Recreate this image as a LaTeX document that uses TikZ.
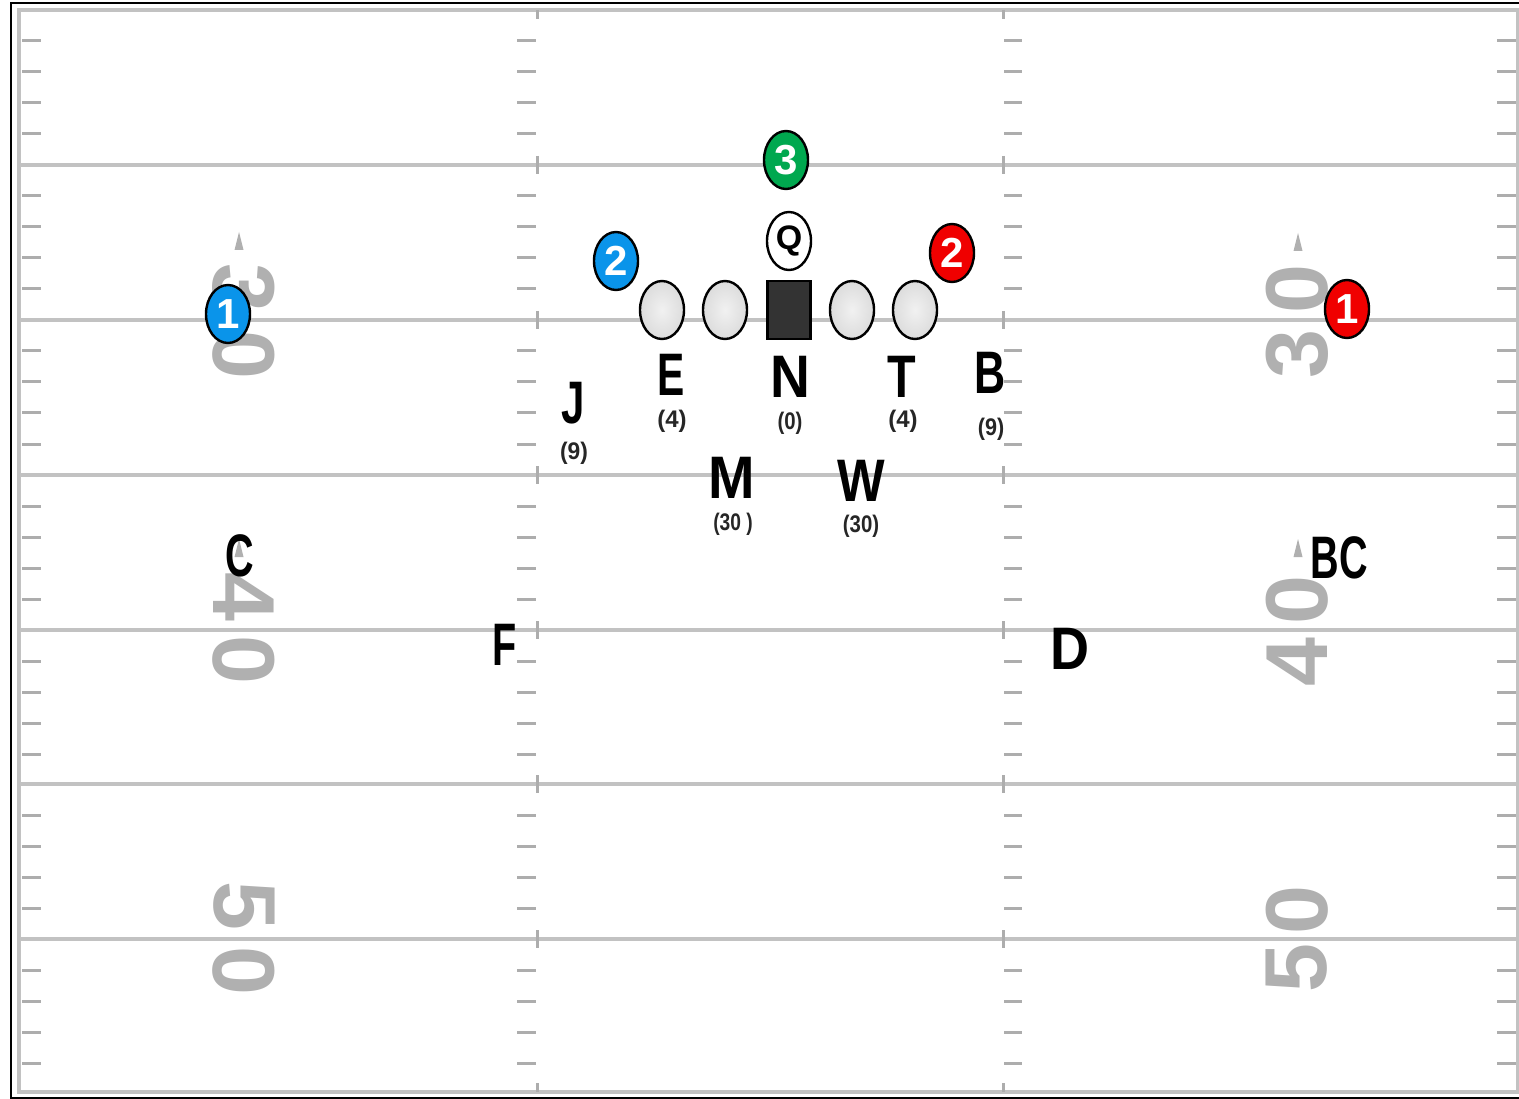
\documentclass[tikz,border=0pt]{standalone}
\usepackage{fontspec}
\setmainfont{Liberation Sans}
\usepackage{graphicx}
\usetikzlibrary{shapes.geometric}
\definecolor{yardc}{HTML}{C2C2C2}
\definecolor{tickc}{HTML}{ADADAD}
\definecolor{numc}{HTML}{B0B0B0}
\definecolor{bluep}{HTML}{0A94EA}
\definecolor{redp}{HTML}{F00000}
\definecolor{greenp}{HTML}{00A84F}
\definecolor{linefill}{HTML}{DCDCDC}
\definecolor{centerfill}{HTML}{333333}
\newcommand{\sq}[2]{\scalebox{#1}[1]{#2}}
\tikzset{
  yardline/.style={yardc, line width=3.5pt},
  hashtick/.style={tickc, line width=3pt},
  fnum/.style={text=numc, font=\fontsize{88}{88}\selectfont\bfseries, inner sep=0pt},
  dirarrow/.style={fill=numc, draw=none},
  player/.style={ellipse, draw=black, line width=2.4pt, minimum width=44pt, minimum height=58pt, inner sep=0pt, text=white, font=\fontsize{42}{42}\selectfont\bfseries},
  olinem/.style={player, inner color=white!60!linefill, outer color=linefill},
  centerm/.style={rectangle, draw=black, line width=2.5pt, fill=centerfill, minimum width=43pt, minimum height=58pt, inner sep=0pt},
  lbl/.style={font=\fontsize{60}{60}\selectfont\bfseries, inner sep=0pt, text=black},
  sublbl/.style={font=\fontsize{24}{24}\selectfont\bfseries, inner sep=0pt, text=black!85}
}
\begin{document}
\begin{tikzpicture}[x=1pt,y=-1pt]
\useasboundingbox (0,0) rectangle (1519,1099);
\fill[white] (0,0) rectangle (1519,1099);
% outer black frame
\draw[black, line width=2pt] (1519,3.5) -- (11,3.5) -- (11,1097.5) -- (1519,1097.5);
% field border
\draw[yardc, line width=3.5pt] (19,10) rectangle (1517.5,1092);
% yard lines
\foreach \yl in {165,320,475,630,784,939}
  \draw[yardline] (19,\yl) -- (1517.5,\yl);
% yard ticks
\foreach \s in {10,165,320,475,630,784,939}{
  \foreach \k in {1,2,3,4}{
    \draw[hashtick] (22,{\s+31*\k}) -- (41,{\s+31*\k});
    \draw[hashtick] (517,{\s+31*\k}) -- (536,{\s+31*\k});
    \draw[hashtick] (1004,{\s+31*\k}) -- (1022,{\s+31*\k});
    \draw[hashtick] (1497,{\s+31*\k}) -- (1516,{\s+31*\k});
  }
}
% hash crossing ticks
\foreach \yl in {165,320,475,630,784,939}{
  \draw[hashtick] (537,\yl-9) -- (537,\yl+9);
  \draw[hashtick] (1003,\yl-9) -- (1003,\yl+9);
}
\draw[hashtick] (537,10) -- (537,19);
\draw[hashtick] (1003,10) -- (1003,19);
\draw[hashtick] (537,1083) -- (537,1092);
\draw[hashtick] (1003,1083) -- (1003,1092);
% field numbers, left
\node[fnum, rotate=-90] (l3) at (244,288) {3};
\node[fnum, rotate=-90] (l30) at (244,355) {0};
\node[fnum, rotate=-90] (l4) at (244,597) {4};
\node[fnum, rotate=-90] (l40) at (244,660) {0};
\node[fnum, rotate=-90] (l5) at (244,906) {5};
\node[fnum, rotate=-90] (l50) at (244,971) {0};
% field numbers, right
\node[fnum, rotate=90] (r30) at (1297,289) {0};
\node[fnum, rotate=90] (r3) at (1297,354) {3};
\node[fnum, rotate=90] (r40) at (1297,600) {0};
\node[fnum, rotate=90] (r4) at (1297,662) {4};
\node[fnum, rotate=90] (r50) at (1297,910) {0};
\node[fnum, rotate=90] (r5) at (1297,968) {5};
% direction arrows
\foreach \ax/\ay in {239/241, 239/548, 1298/242, 1298/548}
  \fill[dirarrow] (\ax-4.5,\ay+9) -- (\ax+4.5,\ay+9) -- (\ax,\ay-9) -- cycle;
% offensive line
\node[olinem] (lt) at (662,310) {};
\node[olinem] (lg) at (725,310) {};
\node[centerm] (ctr) at (789,310) {};
\node[olinem] (rg) at (852,310) {};
\node[olinem] (rt) at (915,310) {};
\node[player, fill=white, text=black, font=\fontsize{34}{34}\selectfont\bfseries] (q) at (789,241) {Q};
\node[player, fill=greenp] (g3) at (786,160) {3};
\node[player, fill=bluep] (b2) at (616,261) {2};
\node[player, fill=redp] (r2) at (952,253) {2};
\node[player, fill=bluep] (b1) at (228,314) {1};
\node[player, fill=redp] (rd1) at (1347,309) {1};
% defenders
\node[lbl] (J) at (573,403) {\sq{0.7}{J}};
\node[sublbl] (Js) at (574,453) {\sq{0.95}{(9)}};
\node[lbl] (E) at (671,375) {\sq{0.68}{E}};
\node[sublbl] (Es) at (672,421) {\sq{1}{(4)}};
\node[lbl] (N) at (790,377) {\sq{0.92}{N}};
\node[sublbl] (Ns) at (790,423) {\sq{0.85}{(0)}};
\node[lbl] (T) at (902,377) {\sq{0.78}{T}};
\node[sublbl] (Ts) at (903,421) {\sq{1}{(4)}};
\node[lbl] (B) at (990,373) {\sq{0.72}{B}};
\node[sublbl] (Bs) at (991,429) {\sq{0.9}{(9)}};
\node[lbl] (M) at (732,478) {\sq{0.93}{M}};
\node[sublbl] (Ms) at (733,524) {\sq{0.8}{(30 )}};
\node[lbl] (W) at (861,481) {\sq{0.84}{W}};
\node[sublbl] (Ws) at (861,526) {\sq{0.85}{(30)}};
\node[lbl] (C) at (240,556) {\sq{0.66}{C}};
\node[lbl] (BC) at (1339,558) {\sq{0.66}{BC}};
\node[lbl] (F) at (505,645) {\sq{0.66}{F}};
\node[lbl] (D) at (1070,649) {\sq{0.9}{D}};
\end{tikzpicture}
\end{document}
